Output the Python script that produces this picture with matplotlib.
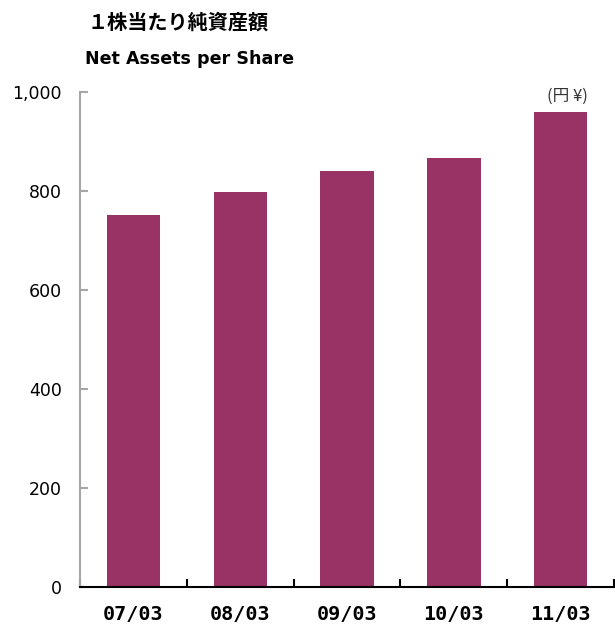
import matplotlib
matplotlib.use('Agg')
import matplotlib.pyplot as plt

periods = ['07/03', '08/03', '09/03', '10/03', '11/03']
net_assets = [752, 797, 841, 866, 959]
yticks = [0, 200, 400, 600, 800, 1000]
ytick_labels = ['0', '200', '400', '600', '800', '1,000']

bar_color = '#993366'

fig = plt.figure(figsize=(6.15, 6.28), dpi=100)
ax = fig.add_axes([80/615., 1 - 587/628., 534/615., 495/628.])

x = list(range(len(periods)))
ax.bar(x, net_assets, width=0.5, color=bar_color, zorder=2)

ax.set_xlim(-0.5, len(periods) - 0.5)
ax.set_ylim(0, 1000)

# y axis: grey spine, ticks pointing inward
ax.spines['top'].set_visible(False)
ax.spines['right'].set_visible(False)
ax.spines['left'].set_color('#a6a6a6')
ax.spines['left'].set_linewidth(1.5)
ax.spines['bottom'].set_color('black')
ax.spines['bottom'].set_linewidth(1.5)

ax.set_yticks(yticks)
ax.set_yticklabels(ytick_labels, fontsize=12.5, family='DejaVu Sans')
ax.tick_params(axis='y', direction='in', length=6, width=1.5, color='#a6a6a6', pad=13)

# category boundaries as x ticks
ax.set_xticks([i - 0.5 for i in range(len(periods) + 1)])
ax.set_xticklabels([])
ax.tick_params(axis='x', direction='in', length=6, width=1.5, color='black')
for i, p in enumerate(periods):
    xf = (80 + (i + 0.5) * 534 / 5.) / 615.
    fig.text(xf, 1 - 615/628., p, ha='center', va='center',
             fontsize=14.5, fontweight='bold', family='DejaVu Sans Mono')

fig.text(88/615., 1 - 22/628., '１株当たり純資産額', ha='left', va='center',
         fontsize=14.5, fontweight='bold', family=['Noto Sans CJK JP', 'DejaVu Sans'])
fig.text(85/615., 1 - 59/628., 'Net Assets per Share', ha='left', va='center',
         fontsize=12.6, fontweight='bold', family='DejaVu Sans')
fig.text(567/615., 1 - 96/628., '(円 ¥)', ha='center', va='center',
         fontsize=12, family=['Noto Sans CJK JP', 'DejaVu Sans'], color='#333333')

fig.savefig('out.png', dpi=100)
